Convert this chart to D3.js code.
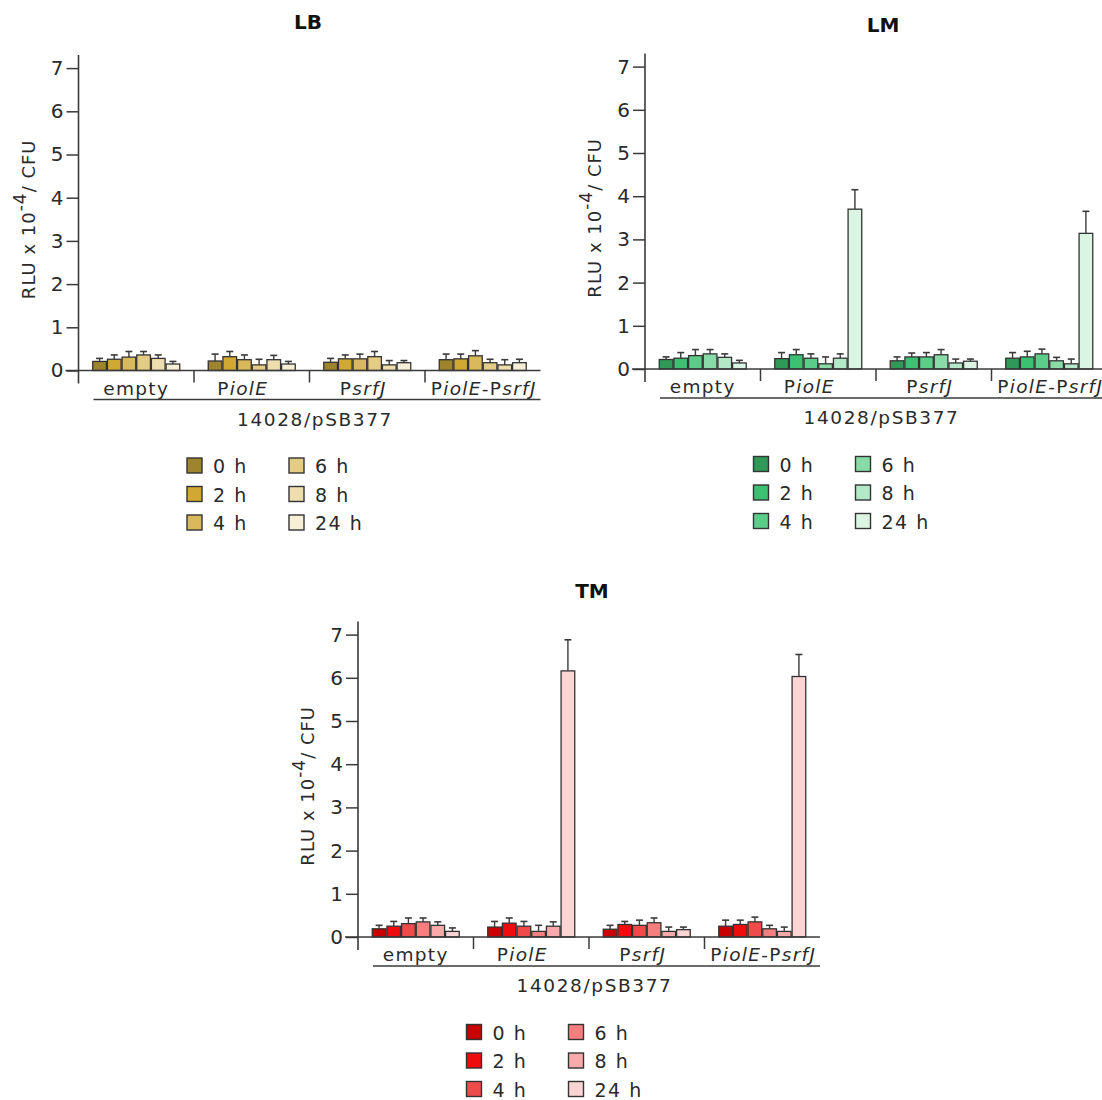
<!DOCTYPE html>
<html>
<head>
<meta charset="utf-8">
<script src="https://cdn.jsdelivr.net/npm/d3@7"></script>
<style>
  html, body { margin: 0; padding: 0; background: #fff; }
  svg { display: block; }
  text { font-family: "DejaVu Sans", sans-serif; fill: #2a2a2a; }
</style>
</head>
<body>
<svg id="chart" width="1102" height="1100"></svg>
<script>
// ---------------- DATA ----------------
const categories = ["empty", "PiolE", "PsrfJ", "PiolE-PsrfJ"];
const timepoints = ["0 h", "2 h", "4 h", "6 h", "8 h", "24 h"];
const yTicks = [0, 1, 2, 3, 4, 5, 6, 7];
const groupLabel = "14028/pSB377";
const panelTitles = ["LB", "LM", "TM"];

// means per category (rows) x timepoint (cols)
const lbMeans = [
  [0.21, 0.26, 0.31, 0.36, 0.28, 0.15],
  [0.22, 0.32, 0.25, 0.13, 0.25, 0.15],
  [0.19, 0.27, 0.27, 0.32, 0.13, 0.18],
  [0.25, 0.27, 0.34, 0.18, 0.13, 0.18]
];
const lbErrors = [
  [0.07, 0.10, 0.13, 0.08, 0.08, 0.06],
  [0.16, 0.12, 0.11, 0.13, 0.10, 0.06],
  [0.09, 0.09, 0.11, 0.12, 0.10, 0.05],
  [0.13, 0.11, 0.12, 0.08, 0.12, 0.08]
];
const lmMeans = [
  [0.22, 0.25, 0.31, 0.35, 0.27, 0.14],
  [0.24, 0.33, 0.25, 0.12, 0.25, 3.70],
  [0.19, 0.28, 0.28, 0.33, 0.14, 0.18],
  [0.25, 0.28, 0.35, 0.19, 0.12, 3.14]
];
const lmErrors = [
  [0.06, 0.13, 0.14, 0.10, 0.08, 0.06],
  [0.14, 0.12, 0.10, 0.16, 0.10, 0.45],
  [0.09, 0.09, 0.10, 0.12, 0.09, 0.05],
  [0.13, 0.13, 0.11, 0.08, 0.11, 0.51]
];
const tmMeans = [
  [0.19, 0.25, 0.31, 0.35, 0.27, 0.13],
  [0.23, 0.32, 0.25, 0.13, 0.25, 6.16],
  [0.18, 0.29, 0.27, 0.33, 0.13, 0.17],
  [0.25, 0.29, 0.35, 0.19, 0.13, 6.03]
];
const tmErrors = [
  [0.08, 0.11, 0.13, 0.09, 0.08, 0.08],
  [0.13, 0.12, 0.11, 0.14, 0.10, 0.72],
  [0.09, 0.07, 0.12, 0.11, 0.10, 0.06],
  [0.14, 0.10, 0.11, 0.08, 0.10, 0.51]
];

const lbColors = ["#9f842e", "#d0a832", "#dab95c", "#e5cc85", "#eedead", "#f7f0d7"];
const lmColors = ["#2f9a58", "#3cc172", "#5ccd89", "#89dba8", "#b3e9c7", "#dbf5e4"];
const tmColors = ["#c80000", "#ee0c0c", "#f04b4b", "#f57f7f", "#f9a9a9", "#fdd4d4"];

// ---------------- LAYOUT ----------------
const panels = [
  { title: panelTitles[0], means: lbMeans, errors: lbErrors, colors: lbColors,
    axisX: 78.5, base: 370.5, titleX: 308, titleY: 29 },
  { title: panelTitles[1], means: lmMeans, errors: lmErrors, colors: lmColors,
    axisX: 645, base: 369, titleX: 883, titleY: 32 },
  { title: panelTitles[2], means: tmMeans, errors: tmErrors, colors: tmColors,
    axisX: 358, base: 937, titleX: 592, titleY: 598 }
];
const labelShift = [0, -9, -4, 1];

const unit = 43.2;
const bandW = 115.5;
const groupW = 88;
const ink = "#3a3a3a";

const svg = d3.select("#chart");
svg.append("rect").attr("width", 1102).attr("height", 1100).attr("fill", "#fff");

function labelParts(cat) {
  if (cat === "empty") return [["empty", false]];
  if (cat === "PiolE") return [["P", false], ["iolE", true]];
  if (cat === "PsrfJ") return [["P", false], ["srfJ", true]];
  return [["P", false], ["iolE", true], ["-P", false], ["srfJ", true]];
}

panels.forEach(p => {
  const g = svg.append("g");
  const y = d3.scaleLinear().domain([0, 7]).range([p.base, p.base - 7 * unit]);
  const x0 = d3.scaleBand().domain(categories)
    .range([p.axisX, p.axisX + bandW * categories.length]).padding(0);
  const x1 = d3.scaleBand().domain(timepoints)
    .range([(bandW - groupW) / 2, (bandW + groupW) / 2]).padding(0);

  // title
  g.append("text").attr("x", p.titleX).attr("y", p.titleY)
    .attr("text-anchor", "middle").attr("font-weight", "bold")
    .attr("font-size", 20).style("fill", "#111").text(p.title);

  // bars
  categories.forEach((cat, ci) => {
    const cg = g.append("g").attr("transform", `translate(${x0(cat)},0)`);
    timepoints.forEach((tp, ti) => {
      const v = p.means[ci][ti];
      const e = p.errors[ci][ti];
      const bx = x1(tp), bw = x1.bandwidth();
      const cx = bx + bw / 2;
      cg.append("line").attr("x1", cx).attr("x2", cx)
        .attr("y1", y(v)).attr("y2", y(v + e))
        .attr("stroke", ink).attr("stroke-width", 1.4);
      cg.append("line").attr("x1", cx - 3.5).attr("x2", cx + 3.5)
        .attr("y1", y(v + e)).attr("y2", y(v + e))
        .attr("stroke", ink).attr("stroke-width", 1.6);
      cg.append("rect").attr("x", bx + 0.5).attr("width", bw - 1)
        .attr("y", y(v)).attr("height", y(0) - y(v))
        .attr("fill", p.colors[ti]).attr("stroke", "#333").attr("stroke-width", 1.3);
    });
  });

  // y axis
  const yAxis = d3.axisLeft(y).tickValues(yTicks).tickSize(12).tickPadding(3)
    .tickFormat(d3.format("d"));
  const ya = g.append("g").attr("transform", `translate(${p.axisX},0)`).call(yAxis);
  ya.select(".domain").remove();
  ya.selectAll(".tick line").attr("stroke", ink).attr("stroke-width", 1.5);
  ya.selectAll(".tick text").attr("font-size", 20).attr("font-family", "DejaVu Sans, sans-serif")
    .style("fill", "#2a2a2a");
  g.append("line").attr("x1", p.axisX).attr("x2", p.axisX)
    .attr("y1", y(7) - 13).attr("y2", p.base + 13)
    .attr("stroke", ink).attr("stroke-width", 1.6);

  // baseline
  const xEnd = p.axisX + bandW * categories.length;
  g.append("line").attr("x1", p.axisX - 13).attr("x2", xEnd)
    .attr("y1", p.base).attr("y2", p.base)
    .attr("stroke", ink).attr("stroke-width", 1.6);

  // category separators and labels
  categories.forEach((cat, ci) => {
    if (ci > 0) {
      g.append("line").attr("x1", x0(cat)).attr("x2", x0(cat))
        .attr("y1", p.base).attr("y2", p.base + 12)
        .attr("stroke", ink).attr("stroke-width", 1.5);
    }
    const t = g.append("text").attr("x", x0(cat) + bandW / 2 + labelShift[ci]).attr("y", p.base + 24)
      .attr("text-anchor", "middle").attr("font-size", 18.5)
      .style("letter-spacing", "1.3px");
    labelParts(cat).forEach(([s, it]) => {
      t.append("tspan").attr("font-style", it ? "italic" : "normal").text(s);
    });
  });

  // group line and label
  g.append("line").attr("x1", p.axisX + 15).attr("x2", xEnd)
    .attr("y1", p.base + 29).attr("y2", p.base + 29)
    .attr("stroke", ink).attr("stroke-width", 1.6);
  g.append("text").attr("x", (p.axisX + 15 + xEnd) / 2 - 2).attr("y", p.base + 55)
    .attr("text-anchor", "middle").attr("font-size", 18.5)
    .style("letter-spacing", "1.6px").text(groupLabel);

  // y label
  const ly = (y(0) + y(7)) / 2;
  const yl = g.append("text")
    .attr("transform", `translate(${p.axisX - 44},${ly}) rotate(-90)`)
    .attr("text-anchor", "middle").attr("font-size", 18)
    .style("letter-spacing", "1px");
  yl.append("tspan").text("RLU x 10");
  yl.append("tspan").attr("dy", -9).attr("font-size", 17).text("-4");
  yl.append("tspan").attr("dy", 9).text("/ CFU");

  // legend
  const lx = p.axisX + 108.5, lyy = p.base + 87.5;
  timepoints.forEach((tp, ti) => {
    const col = Math.floor(ti / 3), row = ti % 3;
    const sx = lx + col * 102, sy = lyy + row * 28.5;
    g.append("rect").attr("x", sx).attr("y", sy).attr("width", 15).attr("height", 15)
      .attr("fill", p.colors[ti]).attr("stroke", "#333").attr("stroke-width", 1.4);
    g.append("text").attr("x", sx + 26).attr("y", sy + 15)
      .attr("font-size", 19).style("letter-spacing", "1.5px").text(tp);
  });
});
</script>
</body>
</html>
